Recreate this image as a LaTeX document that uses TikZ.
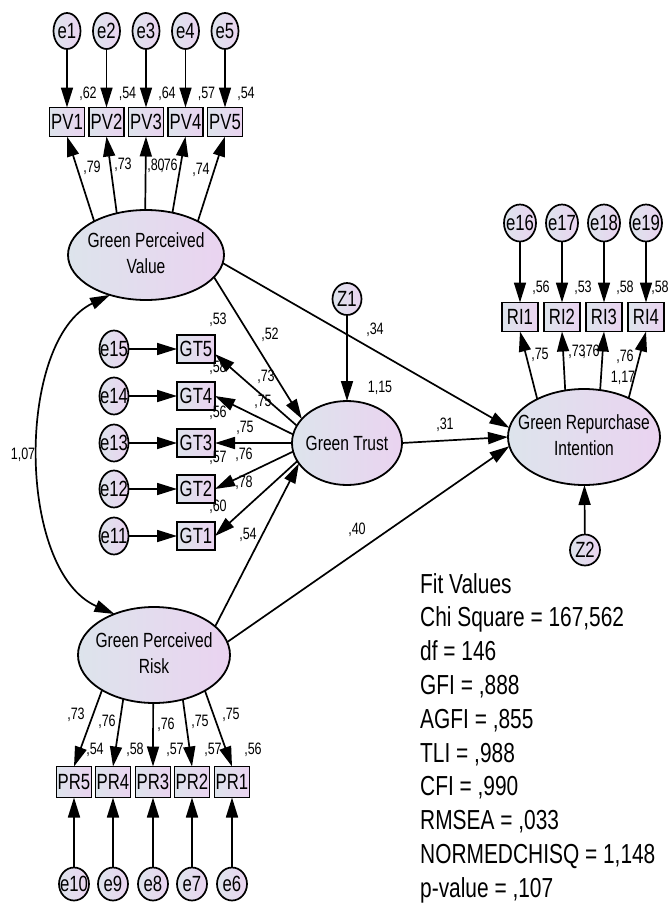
\documentclass[tikz,border=0pt]{standalone}
\usepackage{fontspec}
\setmainfont{Liberation Sans}[FakeStretch=0.76]
\usetikzlibrary{arrows.meta,shapes.geometric}
\definecolor{gl}{HTML}{DDE4EC}
\definecolor{gr}{HTML}{EAD3F0}
\begin{document}
\begin{tikzpicture}[x=1pt,y=-1pt,
  lat/.style={ellipse, draw, line width=1.8pt, left color=gl, right color=gr, inner sep=0pt, outer sep=0pt, font=\fontsize{20.5}{26}\selectfont},
  err/.style={ellipse, draw, line width=1.7pt, left color=gl, right color=gr, inner sep=0pt, outer sep=0pt, font=\fontsize{22}{25}\selectfont},
  obs/.style={rectangle, draw, line width=1.7pt, left color=gl, right color=gr, inner sep=0pt, outer sep=0pt, minimum width=35pt, minimum height=29pt, font=\fontsize{22}{25}\selectfont},
  num/.style={inner sep=0pt, font=\fontsize{16.5}{18}\selectfont},
  fitv/.style={inner sep=0pt, anchor=base west, font=\fontsize{27.5}{33}\selectfont},
  arr/.style={line width=1.7pt, -{Triangle[length=20pt,width=12pt]}},
  darr/.style={line width=1.7pt, {Triangle[length=20pt,width=12pt]}-{Triangle[length=20pt,width=12pt]}}]
\useasboundingbox (0,0) rectangle (670,905);

% latent variables
\node[lat, minimum width=156pt, minimum height=90pt] (gpv) at (146,255) {\makebox[0pt]{\begin{tabular}{c}Green Perceived\\Value\end{tabular}}};
\node[lat, minimum width=152pt, minimum height=96pt] (gpr) at (154,655) {\makebox[0pt]{\begin{tabular}{c}Green Perceived\\Risk\end{tabular}}};
\node[lat, minimum width=110pt, minimum height=84pt] (trust) at (347,443) {\makebox[0pt]{Green Trust}};
\node[lat, minimum width=152pt, minimum height=96pt] (gri) at (584,437) {\makebox[0pt]{\begin{tabular}{c}Green Repurchase\\Intention\end{tabular}}};
\node[err, minimum width=29pt, minimum height=32pt] (z1) at (347,299) {\makebox[0pt]{Z1}};
\node[err, minimum width=30pt, minimum height=31pt] (z2) at (585,550) {\makebox[0pt]{Z2}};

% PV indicators
\foreach \i/\x in {1/67,2/106.5,3/146,4/185.5,5/225} {
  \node[err, minimum width=27pt, minimum height=36pt] (e\i) at (\x,31) {\makebox[0pt]{e\i}};
  \node[obs] (pv\i) at (\x,122) {PV\i};
}
% GT indicators
\foreach \i/\y in {5/349,4/396,3/443,2/489,1/536} {
  \node[err, minimum width=29pt, minimum height=37pt] (e1\i) at (114,\y) {\makebox[0pt]{e1\i}};
  \node[obs, minimum width=38pt, minimum height=28pt] (gt\i) at (196,\y) {GT\i};
}
% RI indicators
\foreach \i/\n/\x in {1/16/520,2/17/562,3/18/604,4/19/646} {
  \node[err, minimum width=32pt, minimum height=37pt] (e\n) at (\x,223) {\makebox[0pt]{e\n}};
  \node[obs, minimum width=36pt] (ri\i) at (\x,317) {RI\i};
}
% PR indicators
\foreach \i/\n/\x in {5/10/74,4/9/113,3/8/153,2/7/192,1/6/232} {
  \node[err, minimum width=30pt, minimum height=33pt] (e\n) at (\x,884) {\makebox[0pt]{e\n}};
  \node[obs, minimum height=31pt] (pr\i) at (\x,782) {PR\i};
}

% numbers
\node[num] (v1) at (88,94) {,62};
\node[num] (v2) at (127.5,94) {,54};
\node[num] (v3) at (167,94) {,64};
\node[num] (v4) at (206.5,94) {,57};
\node[num] (v5) at (246,94) {,54};
\node[num] (l1) at (92,168) {,79};
\node[num] (l2) at (123,165) {,73};
\node[num] (l3) at (156,166) {,80};
\node[num] (l4) at (169,166) {,76};
\node[num] (l5) at (201,170) {,74};

\node[num] (v15) at (218,320) {,53};
\node[num] (v14) at (218,368) {,58};
\node[num] (v13) at (218,413) {,56};
\node[num] (v12) at (218,458) {,57};
\node[num] (v11) at (218,507) {,60};
\node[num] (l15) at (266,377) {,73};
\node[num] (l14) at (263,402) {,75};
\node[num] (l13) at (245,428) {,75};
\node[num] (l12) at (244,455) {,76};
\node[num] (l11) at (244,483) {,78};

\node[num] (p54) at (248,535) {,54};
\node[num] (p52) at (270,335) {,52};
\node[num] (c107) at (23,455) {1,07};
\node[num] (p34) at (375,330) {,34};
\node[num] (r115) at (380,388) {1,15};
\node[num] (p31) at (445,425) {,31};
\node[num] (p40) at (357,530) {,40};

\node[num] (v16) at (541,288) {,56};
\node[num] (v17) at (583,288) {,53};
\node[num] (v18) at (625,288) {,58};
\node[num] (v19) at (660,288) {,58};
\node[num] (l16) at (540,355) {,75};
\node[num] (l17) at (577,352) {,73};
\node[num] (l18) at (591,352) {,76};
\node[num] (l19) at (625,357) {,76};
\node[num] (r117) at (623,378) {1,17};

\node[num] (l10) at (76,715) {,73};
\node[num] (l9) at (107,722) {,76};
\node[num] (l8) at (166,725) {,76};
\node[num] (l7) at (200,722) {,75};
\node[num] (l6) at (231,715) {,75};
\node[num] (v10) at (95,750) {,54};
\node[num] (v9) at (135,750) {,58};
\node[num] (v8) at (175,750) {,57};
\node[num] (v7) at (213,750) {,57};
\node[num] (v6) at (253,750) {,56};

% connectors
\foreach \i in {1,...,5} { \draw[arr] (e\i) -- (pv\i); }
\foreach \i in {1,...,5} { \draw[arr] (e1\i) -- (gt\i); }
\foreach \i/\n in {1/16,2/17,3/18,4/19} { \draw[arr] (e\n) -- (ri\i); }
\foreach \i/\n in {5/10,4/9,3/8,2/7,1/6} { \draw[arr] (e\n) -- (pr\i); }

\draw[arr] (gpv.147) -- (pv1.south);
\draw[arr] (gpv.125) -- (pv2.south);
\draw[arr] (gpv.91) -- (pv3.south);
\draw[arr] (gpv.58) -- (pv4.south);
\draw[arr] (gpv.33) -- (pv5.south);

\draw[arr] (gpr.214) -- (pr5.north);
\draw[arr] (gpr.235) -- (pr4.north);
\draw[arr] (gpr.269) -- (pr3.north);
\draw[arr] (gpr.303) -- (pr2.north);
\draw[arr] (gpr.325) -- (pr1.north);

\draw[arr] (gri.141) -- (ri1.south);
\draw[arr] (gri.112) -- (ri2.south);
\draw[arr] (gri.71) -- (ri3.south);
\draw[arr] (gri.41) -- (ri4.south);

\draw[arr] (trust.161) -- (gt5.-15);
\draw[arr] (trust.171) -- (gt4.east);
\draw[arr] (trust.180) -- (gt3.east);
\draw[arr] (trust.189) -- (gt2.east);
\draw[arr] (trust.200) -- (gt1.east);

\draw[arr] (gpv.342) -- (trust.152);
\draw[arr] (gpv.354) -- (gri.173);
\draw[arr] (trust.east) -- (gri.west);
\draw[arr] (gpr.10) -- (gri.187);
\draw[arr] (gpr.25) -- (trust.203);
\draw[arr] (z1) -- (trust);
\draw[arr] (z2) -- (gri);
\draw[darr] (gpv.228) .. controls (16,340) and (16,571) .. (gpr.134);

% fit values
\foreach \i/\t in {0/{Fit Values},1/{Chi Square = 167,562},2/{df = 146},3/{GFI = ,888},4/{AGFI = ,855},5/{TLI = ,988},6/{CFI = ,990},7/{RMSEA = ,033},8/{NORMEDCHISQ = 1,148},9/{p-value = ,107}} {
  \node[fitv] (fit\i) at (420,{593+33.8*\i}) {\t};
}
\end{tikzpicture}
\end{document}
